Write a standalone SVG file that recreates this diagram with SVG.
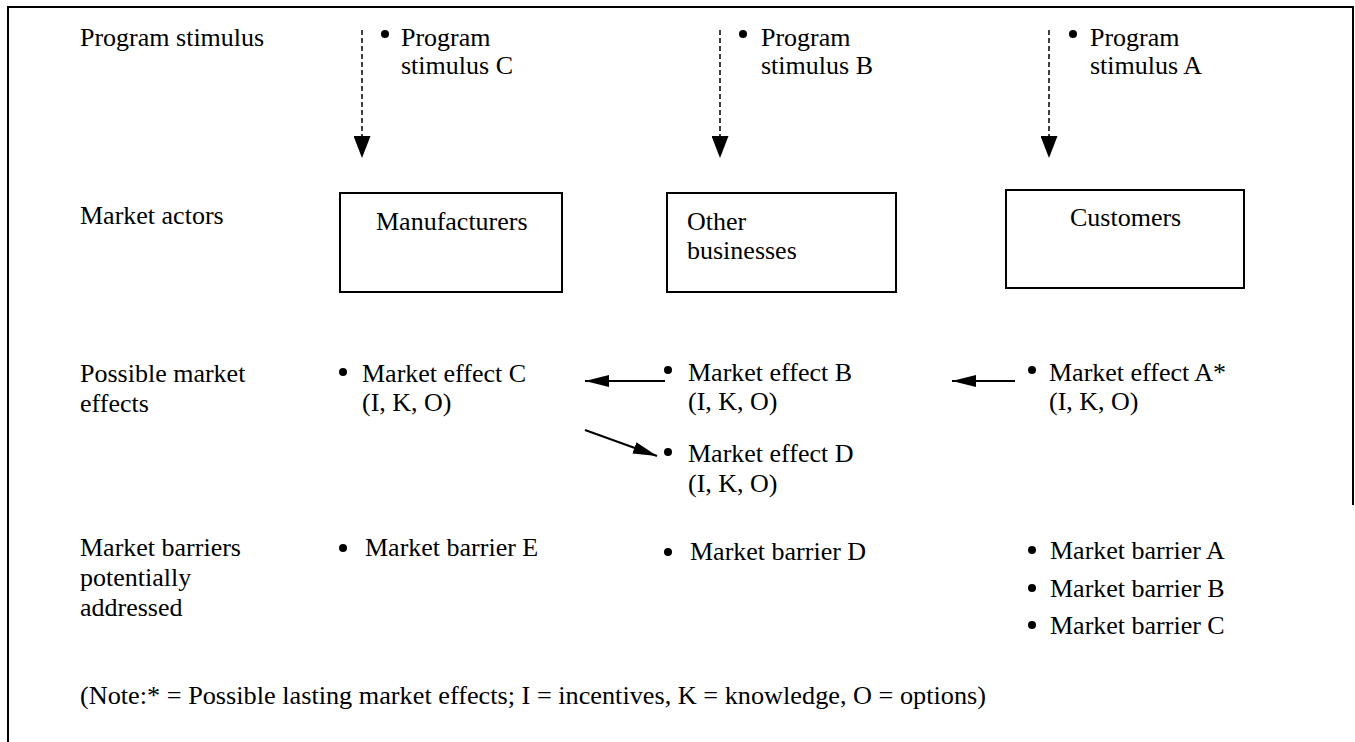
<svg xmlns="http://www.w3.org/2000/svg" width="1355" height="742" viewBox="0 0 1355 742">
<style>
text{font-family:'Liberation Serif','Times New Roman',Times,serif;font-size:26px;fill:#000}
.box{fill:none;stroke:#000;stroke-width:2}
.dash{stroke:#000;stroke-width:1.5;stroke-dasharray:5,3;fill:none}
.solid{stroke:#000;stroke-width:2;fill:none}
circle{fill:#000}
</style>
<defs>
<marker id="ah" viewBox="0 0 22 17" refX="22" refY="8.5" markerUnits="userSpaceOnUse" markerWidth="22" markerHeight="17" orient="auto"><path d="M0,0L22,8.5L0,17z" fill="#000"/></marker>
<marker id="ahs" viewBox="0 0 24 12" refX="24" refY="6" markerUnits="userSpaceOnUse" markerWidth="24" markerHeight="12" orient="auto"><path d="M0,0L24,6L0,12z" fill="#000"/></marker>
</defs>
<rect width="1355" height="742" fill="#fff"/>
<path d="M8,742V7H1353V505" fill="none" stroke="#000" stroke-width="2"/>
<g id="labels">
<text x="80" y="46">Program stimulus</text>
<text x="80" y="224">Market actors</text>
<text x="80" y="382">Possible market</text>
<text x="80" y="412">effects</text>
<text x="80" y="556">Market barriers</text>
<text x="80" y="586">potentially</text>
<text x="80" y="616">addressed</text>
</g>
<g id="stimC"><circle cx="385" cy="34" r="4"/><text x="401" y="46">Program</text><text x="401" y="74">stimulus C</text></g>
<g id="stimB"><circle cx="743" cy="34" r="4"/><text x="761" y="46">Program</text><text x="761" y="74">stimulus B</text></g>
<g id="stimA"><circle cx="1073" cy="34" r="4"/><text x="1090" y="46">Program</text><text x="1090" y="74">stimulus A</text></g>
<g id="manufacturers"><rect class="box" x="340" y="193" width="222" height="99"/><text x="376" y="230">Manufacturers</text></g>
<g id="other"><rect class="box" x="667" y="193" width="229" height="99"/><text x="687" y="230">Other</text><text x="687" y="259">businesses</text></g>
<g id="customers"><rect class="box" x="1006" y="190" width="238" height="98"/><text x="1070" y="226">Customers</text></g>
<g id="effC"><circle cx="343" cy="372" r="4"/><text x="362" y="382">Market effect C</text><text x="362" y="411">(I, K, O)</text></g>
<g id="effB"><circle cx="668" cy="370" r="4"/><text x="688" y="381">Market effect B</text><text x="688" y="410">(I, K, O)</text></g>
<g id="effD"><circle cx="668" cy="452" r="4"/><text x="688" y="462">Market effect D</text><text x="688" y="492">(I, K, O)</text></g>
<g id="effA"><circle cx="1032" cy="370" r="4"/><text x="1049" y="381">Market effect A*</text><text x="1049" y="410">(I, K, O)</text></g>
<g id="barE"><circle cx="343" cy="548" r="4"/><text x="365" y="556">Market barrier E</text></g>
<g id="barD"><circle cx="668" cy="552" r="4"/><text x="690" y="560">Market barrier D</text></g>
<g id="barABC"><circle cx="1032" cy="550" r="4"/><text x="1050" y="559">Market barrier A</text><circle cx="1032" cy="588" r="4"/><text x="1050" y="597">Market barrier B</text><circle cx="1032" cy="625" r="4"/><text x="1050" y="634">Market barrier C</text></g>
<g id="note"><text x="80" y="704" textLength="906" lengthAdjust="spacingAndGlyphs">(Note:* = Possible lasting market effects; I = incentives, K = knowledge, O = options)</text></g>
<g id="connectors">
<path class="dash" d="M362,30V158" marker-end="url(#ah)"/>
<path class="dash" d="M720,30V158" marker-end="url(#ah)"/>
<path class="dash" d="M1049,30V158" marker-end="url(#ah)"/>
<path class="solid" d="M665,381H585" marker-end="url(#ahs)"/>
<path class="solid" d="M585,430L657,456" marker-end="url(#ahs)"/>
<path class="solid" d="M1015,381H952" marker-end="url(#ahs)"/>
</g>
</svg>
